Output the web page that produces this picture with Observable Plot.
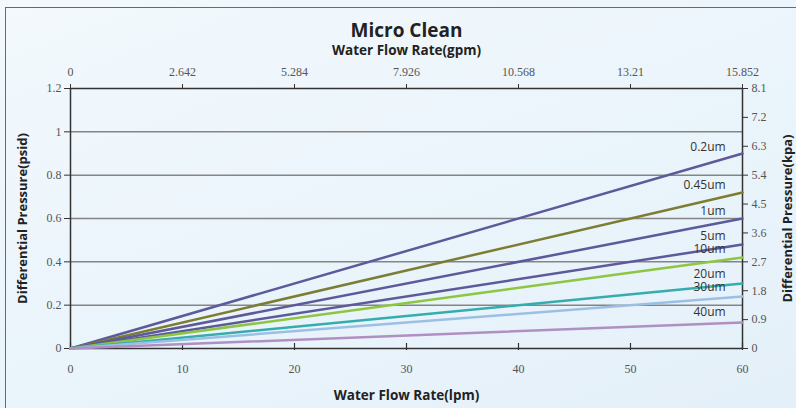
<!DOCTYPE html>
<html>
<head>
<meta charset="utf-8">
<script src="https://cdn.jsdelivr.net/npm/d3@7"></script>
<script src="https://cdn.jsdelivr.net/npm/@observablehq/plot@0.6"></script>
<style>
  html, body { margin: 0; padding: 0; }
  #wrap { position: relative; width: 796px; height: 408px; overflow: hidden;
    background: linear-gradient(160deg, #f3f9fd 0%, #eaf4fb 55%, #e4f0f9 100%); }
  #border { position: absolute; left: 5px; top: 7px; width: 900px; height: 500px;
    border: 1.5px solid #6a6a6a; }
  #chart { position: absolute; left: 0; top: 0; }
</style>
</head>
<body>
<div id="wrap"><div id="border"></div><div id="chart"></div></div>
<script>
// Filter grades and their differential pressure (psid) at 60 lpm (linear from origin)
const sizes = ["0.2um", "0.45um", "1um", "5um", "10um", "20um", "30um", "40um"];
const flowLpm = [0, 60];
const dpAt60 = [0.9, 0.72, 0.6, 0.48, 0.42, 0.3, 0.24, 0.12];
const colors = ["#5d5a9b", "#7c7d33", "#5d5a9b", "#5d5a9b", "#8dc640", "#35adae", "#9cc0e3", "#b08fc3"];

// Axis ticks
const lpmTicks = [0, 10, 20, 30, 40, 50, 60];
const gpmLabels = ["0", "2.642", "5.284", "7.926", "10.568", "13.21", "15.852"];
const psidTicks = [0, 0.2, 0.4, 0.6, 0.8, 1.0, 1.2];
const kpaTicks = [0, 0.9, 1.8, 2.7, 3.6, 4.5, 5.4, 6.3, 7.2, 8.1];
const kpaPerPsid = 6.75;

const rows = [];
sizes.forEach((s, i) => {
  flowLpm.forEach(f => rows.push({size: s, lpm: f, psid: dpAt60[i] * f / 60}));
});
const labelLpm = 58.5;
const labels = sizes.map((s, i) => ({size: s, lpm: labelLpm, psid: dpAt60[i] * labelLpm / 60}));

const sans = "Open Sans";
const fmt = d => String(+d.toFixed(2));
const title = {fontFamily: sans, fontWeight: "bold", fill: "#222", textAnchor: "middle", lineAnchor: "middle"};

const plot = Plot.plot({
  width: 796,
  height: 408,
  marginLeft: 70,
  marginRight: 54,
  marginTop: 88,
  marginBottom: 60,
  style: {background: "transparent", fontFamily: "Liberation Serif", fontSize: "12px", color: "#555"},
  x: {domain: [0, 60]},
  y: {domain: [0, 1.2]},
  color: {domain: sizes, range: colors},
  marks: [
    Plot.ruleY(psidTicks.slice(1, -1), {stroke: "#858585", strokeWidth: 1.5}),
    Plot.ruleX([0, 60], {stroke: "#333", strokeWidth: 1.5}),
    Plot.ruleY([0, 1.2], {stroke: "#333", strokeWidth: 1.5}),
    Plot.ruleX(lpmTicks, {y1: 0, y2: 0, insetTop: -5, insetBottom: -2, stroke: "#333", strokeWidth: 1.2}),
    Plot.axisX({anchor: "bottom", ticks: lpmTicks, tickSize: 0, tickPadding: 16, label: null, fill: "#555", fontFamily: "Liberation Serif", fontSize: 12}),
    Plot.axisX({anchor: "top", ticks: lpmTicks, tickSize: 5, tickPadding: 8, label: null,
      tickFormat: d => gpmLabels[lpmTicks.indexOf(d)], stroke: "#333", fill: "#555", fontFamily: "Liberation Serif", fontSize: 12}),
    Plot.axisY({anchor: "left", ticks: psidTicks, tickSize: 6, tickPadding: 3, label: null,
      tickFormat: fmt, stroke: "#333", fill: "#555", fontFamily: "Liberation Serif", fontSize: 12}),
    Plot.axisY({anchor: "right", ticks: kpaTicks.map(k => k / kpaPerPsid), tickSize: 5, tickPadding: 4, label: null,
      tickFormat: d => String(+(d * kpaPerPsid).toFixed(1)), stroke: "#333", fill: "#555", fontFamily: "Liberation Serif", fontSize: 12}),
    Plot.line(rows, {x: "lpm", y: "psid", z: "size", stroke: "size", strokeWidth: 2.5}),
    Plot.text(labels, {x: "lpm", y: "psid", text: "size", textAnchor: "end", dy: -11,
      fontFamily: sans, fontSize: 12, fill: "#333"}),
    Plot.text(["Micro Clean"], {...title, frameAnchor: "top", dy: -58, fontSize: 19}),
    Plot.text(["Water Flow Rate(gpm)"], {...title, frameAnchor: "top", dy: -38, fontSize: 13.5}),
    Plot.text(["Water Flow Rate(lpm)"], {...title, frameAnchor: "bottom", dy: 47, fontSize: 13.5}),
    Plot.text(["Differential Pressure(psid)"], {...title, frameAnchor: "left", dx: -48, rotate: -90, fontSize: 13}),
    Plot.text(["Differential Pressure(kpa)"], {...title, frameAnchor: "right", dx: 45, rotate: -90, fontSize: 13})
  ]
});
document.getElementById("chart").appendChild(plot);
</script>
</body>
</html>
